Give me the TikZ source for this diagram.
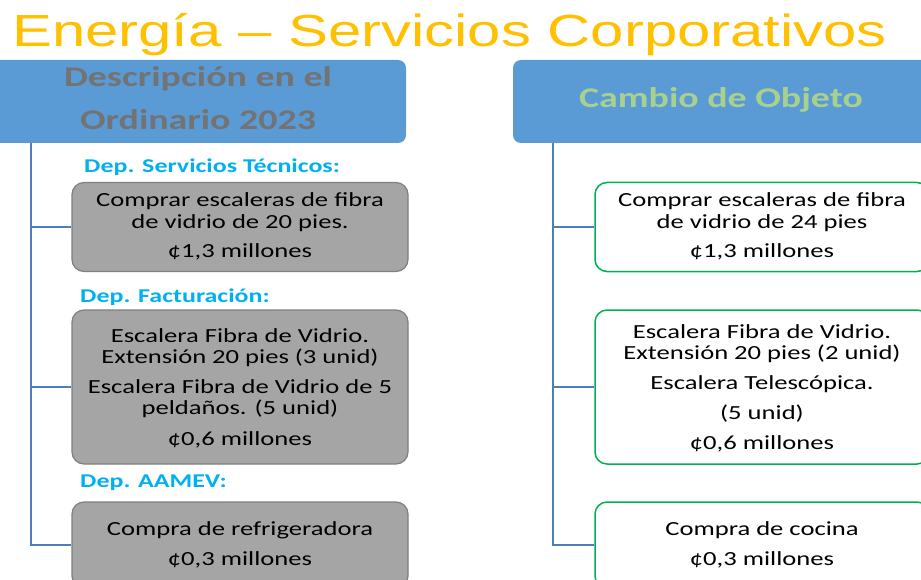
\documentclass[tikz,border=0pt]{standalone}
\usepackage{fontspec}
\newfontfamily\titlefont[FakeStretch=1.33]{Liberation Sans}
\newfontfamily\bodyfont[FakeStretch=1.33]{Carlito}
\definecolor{titleorange}{HTML}{FFC000}
\definecolor{hdrblue}{HTML}{5B9BD5}
\definecolor{hdrgray}{HTML}{737373}
\definecolor{hdrgreen}{HTML}{A9D18E}
\definecolor{depblue}{HTML}{00B0F0}
\definecolor{boxgray}{HTML}{A5A5A5}
\definecolor{boxedge}{HTML}{7F7F7F}
\definecolor{boxgreen}{HTML}{00B050}
\definecolor{connblue}{HTML}{4F7DB5}
\begin{document}
\begin{tikzpicture}[x=1pt,y=-1pt,
  hdr/.style={rectangle, rounded corners=8pt, fill=hdrblue, minimum width=416pt, minimum height=83pt, inner sep=0pt},
  graybox/.style={rectangle, rounded corners=12pt, fill=boxgray, draw=boxedge, line width=1.2pt, minimum width=336pt, inner sep=0pt},
  greenbox/.style={rectangle, rounded corners=12pt, fill=white, draw=boxgreen, line width=1.5pt, minimum width=334pt, inner sep=0pt},
  txt/.style={anchor=base, inner sep=0pt, font=\bodyfont\fontsize{20}{24}\selectfont, text=black},
  hdrtxt/.style={anchor=base, inner sep=0pt, font=\bodyfont\bfseries\fontsize{28.5}{34}\selectfont},
  lbl/.style={anchor=base west, inner sep=0pt, font=\bodyfont\bfseries\fontsize{19.5}{23}\selectfont, text=depblue},
  conn/.style={draw=connblue, line width=1.8pt}
]
\useasboundingbox (0,0) rectangle (921,580);
\fill[white] (0,0) rectangle (921,580);

% title
\node[anchor=base west, inner sep=0pt, text=titleorange, font=\titlefont\fontsize{45}{54}\selectfont] (title) at (12,47) {Energía – Servicios Corporativos};

% headers
\node[hdr] (hdrL) at (198,101.5) {};
\node[hdr] (hdrR) at (721,101.5) {};
\node[hdrtxt, text=hdrgray] (hdrL1) at (198,87) {Descripción en el};
\node[hdrtxt, text=hdrgray] (hdrL2) at (198,130) {Ordinario 2023};
\node[hdrtxt, text=hdrgreen] (hdrR1) at (721,108) {Cambio de Objeto};

% trunk coordinates
\coordinate (trunkL) at (31,143);
\coordinate (trunkR) at (553,143);

% boxes
\node[graybox, minimum height=89pt] (lb1) at (240,227) {};
\node[graybox, minimum height=154pt] (lb2) at (240,387) {};
\node[graybox, minimum height=86pt] (lb3) at (240,545) {};
\node[greenbox, minimum height=89pt] (rb1) at (762,227) {};
\node[greenbox, minimum height=154pt] (rb2) at (762,387) {};
\node[greenbox, minimum height=86pt] (rb3) at (762,545) {};

% connectors
\draw[conn] (trunkL) |- (lb1.west);
\draw[conn] (trunkL) |- (lb2.west);
\draw[conn] (trunkL) |- (lb3.west);
\draw[conn] (trunkR) |- (rb1.west);
\draw[conn] (trunkR) |- (rb2.west);
\draw[conn] (trunkR) |- (rb3.west);

% department labels
\node[lbl] (dep1) at (84,173) {Dep. Servicios Técnicos:};
\node[lbl] (dep2) at (80,302) {Dep. Facturación:};
\node[lbl] (dep3) at (80,487) {Dep. AAMEV:};

% left box texts
\node[txt] (l1a) at (240,207) {Comprar escaleras de fibra};
\node[txt] (l1b) at (240,229) {de vidrio de 20 pies.};
\node[txt] (l1c) at (240,258) {¢1,3 millones};
\node[txt] (l2a) at (240,342) {Escalera Fibra de Vidrio.};
\node[txt] (l2b) at (240,363) {Extensión 20 pies (3 unid)};
\node[txt] (l2c) at (240,393) {Escalera Fibra de Vidrio de 5};
\node[txt] (l2d) at (240,414) {peldaños. (5 unid)};
\node[txt] (l2e) at (240,445) {¢0,6 millones};
\node[txt] (l3a) at (240,535) {Compra de refrigeradora};
\node[txt] (l3b) at (240,565) {¢0,3 millones};

% right box texts
\node[txt] (r1a) at (762,207) {Comprar escaleras de fibra};
\node[txt] (r1b) at (762,229) {de vidrio de 24 pies};
\node[txt] (r1c) at (762,258) {¢1,3 millones};
\node[txt] (r2a) at (762,338) {Escalera Fibra de Vidrio.};
\node[txt] (r2b) at (762,359) {Extensión 20 pies (2 unid)};
\node[txt] (r2c) at (762,389) {Escalera Telescópica.};
\node[txt] (r2d) at (762,419) {(5 unid)};
\node[txt] (r2e) at (762,449) {¢0,6 millones};
\node[txt] (r3a) at (762,535) {Compra de cocina};
\node[txt] (r3b) at (762,565) {¢0,3 millones};
\end{tikzpicture}
\end{document}
